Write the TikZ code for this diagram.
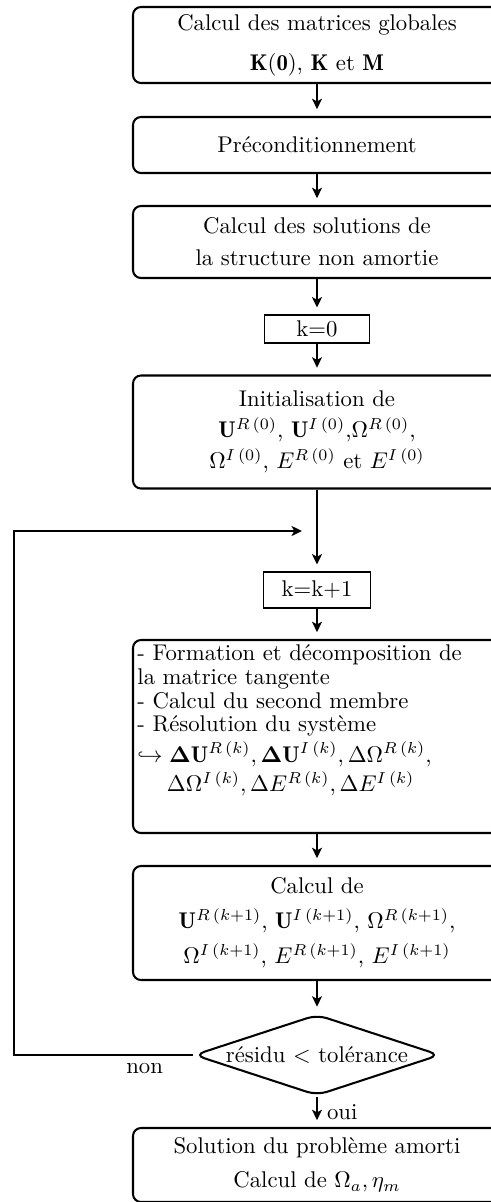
\documentclass[tikz,border=0pt]{standalone}
\usepackage{fontspec}
\usepackage{amsmath}
\usetikzlibrary{arrows.meta,shapes.geometric}
\newcommand\pxl[1]{#1*0.44pt}
\newcommand\bDU{\boldsymbol{\Delta}\mathbf{U}}
\tikzset{
  rbox/.style={draw, line width=0.9pt, rounded corners=3.5pt, minimum width=\pxl{368}, inner sep=0pt, align=center},
  sbox/.style={draw, line width=0.6pt, inner sep=0pt, align=center},
  tip/.style={-{Stealth[length=4.6pt,width=4.4pt,inset=1.2pt]}},
  flow/.style={line width=0.9pt, tip, shorten >=3pt},
  lsk/.style={font={\lineskiplimit=-20pt\fontsize{10}{#1}\selectfont}}
}
\begin{document}
\begin{tikzpicture}[x=0.44pt,y=-0.44pt]
\useasboundingbox (0,0) rectangle (491,1202);
\node[rbox, minimum height=\pxl{76}, lsk=17.6] (b1) at (317,45) {Calcul des matrices globales\\ $\mathbf{K}(\mathbf{0})$, $\mathbf{K}$ et $\mathbf{M}$};
\node[rbox, minimum height=\pxl{56}] (b2) at (317,145) {Préconditionnement};
\node[rbox, minimum height=\pxl{72}, lsk=14.1] (b3) at (317,242) {Calcul des solutions de\\ la structure non amortie};
\node[sbox, minimum width=\pxl{105}, minimum height=\pxl{28}] (k0) at (317,329) {k=0};
\node[rbox, minimum height=\pxl{113}, lsk=13.6] (b4) at (317,432) {Initialisation de\\ $\mathbf{U}^{R\,(0)}$, $\mathbf{U}^{I\,(0)}$,$\Omega^{R\,(0)}$,\\ $\Omega^{I\,(0)}$, $E^{R\,(0)}$ et $E^{I\,(0)}$};
\coordinate (jl) at (302,531);
\coordinate (cl) at (14,531);
\node[sbox, minimum width=\pxl{107}, minimum height=\pxl{36}] (k1) at (317,590) {k=k+1};
\node[rbox, minimum height=\pxl{193}] (b5) at (317,736.5) {};
\node[anchor=north west, inner sep=0pt, align=left, lsk=10.5] (t5) at (137,644) {- Formation et décomposition de\\ la matrice tangente\\ - Calcul du second membre\\ - Résolution du système\\[2.8pt] $\hookrightarrow \bDU^{R\,(k)}, \bDU^{I\,(k)}, \Delta\Omega^{R\,(k)},$\\[2.5pt] \hspace*{13pt}$\Delta\Omega^{I\,(k)}, \Delta E^{R\,(k)}, \Delta E^{I\,(k)}$};
\node[rbox, minimum height=\pxl{114}, lsk=15.4] (b6) at (317,923) {Calcul de\\ $\mathbf{U}^{R\,(k+1)}$, $\mathbf{U}^{I\,(k+1)}$, $\Omega^{R\,(k+1)}$,\\ $\Omega^{I\,(k+1)}$, $E^{R\,(k+1)}$, $E^{I\,(k+1)}$};
\node[draw, diamond, aspect=3, line width=0.9pt, rounded corners=4.5pt, minimum width=\pxl{246}, minimum height=\pxl{81}, inner sep=0pt] (d) at (317,1055) {résidu $<$ tolérance};
\node[rbox, minimum height=\pxl{74}, lsk=15] (b7) at (317,1165) {Solution du problème amorti\\ Calcul de $\Omega_a, \eta_m$};
\draw[flow] (b1.south) -- (b2.north);
\draw[flow] (b2.south) -- (b3.north);
\draw[flow] (b3.south) -- (k0.north);
\draw[flow] (k0.south) -- (b4.north);
\draw[flow] (b4.south) -- (k1.north);
\draw[flow] (k1.south) -- (b5.north);
\draw[flow] (b5.south) -- (b6.north);
\draw[flow] (b6.south) -- (d.north);
\draw[flow] (d.south) -- node[right, inner sep=4pt] {oui} (b7.north);
\draw[line width=0.9pt, tip] (d.west) -- node[below, pos=0.27] {non} (d.west -| cl) -- (cl) -- (jl);
\end{tikzpicture}
\end{document}
